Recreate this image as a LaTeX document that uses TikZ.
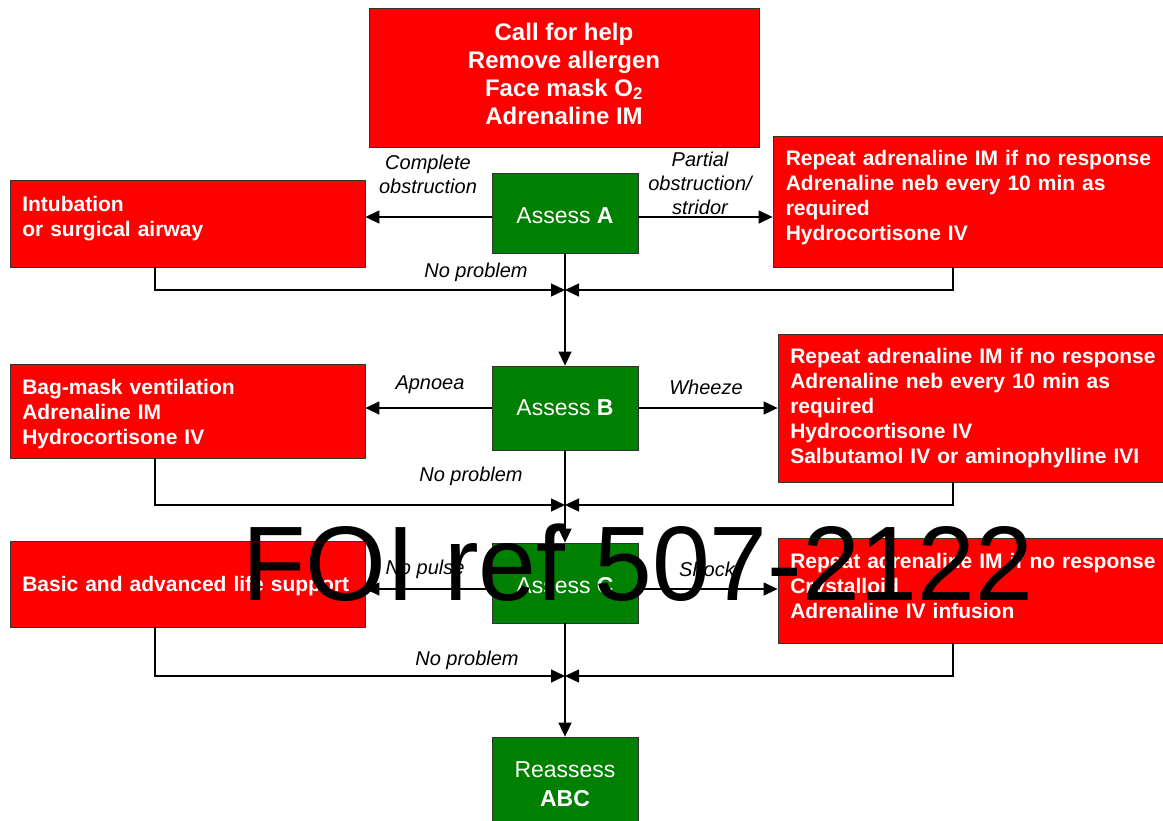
\documentclass[tikz,border=0pt]{standalone}
\usepackage{fontspec}
\setmainfont{Liberation Sans}
\usetikzlibrary{arrows.meta,calc}
\definecolor{alarmred}{RGB}{255,0,0}
\definecolor{okgreen}{RGB}{0,128,0}

\begin{document}
\begin{tikzpicture}[x=1pt,y=-1pt,
  redbox/.style={draw=black!80, line width=0.8pt, fill=alarmred, inner sep=0pt},
  greenbox/.style={draw=black!80, line width=0.8pt, fill=okgreen, inner sep=0pt,
    minimum width=146pt},
  redtxt/.style={text=white, font=\fontsize{21}{25}\selectfont\bfseries,
    inner sep=0pt, align=left, anchor=west, text width=#1},
  toptxt/.style={text=white, font=\fontsize{24}{28}\selectfont\bfseries,
    inner sep=0pt, align=center},
  greentxt/.style={text=white, font=\fontsize{23}{29}\selectfont,
    inner sep=0pt, align=center},
  lbl/.style={font=\fontsize{20}{24}\selectfont\itshape, align=center, inner sep=0pt},
  flow/.style={line width=1.4pt, -{Triangle[length=14pt,width=13pt]}}
]
\useasboundingbox (0,0) rectangle (1163,820);

% first actions
\node[redbox, minimum width=390pt, minimum height=139pt] (top) at (564,77.5) {};
\node[toptxt] (topt) at ([yshift=4pt]top.center)
  {Call for help\\Remove allergen\\Face mask O\textsubscript{2}\\Adrenaline IM};

% airway
\node[greenbox, minimum height=80pt] (assA) at (565,213) {};
\node[greentxt] (assAt) at ([yshift=-3pt]assA.center) {Assess \textbf{A}};
\node[redbox, minimum width=355pt, minimum height=87pt] (L1) at (187.5,223.5) {};
\node[redtxt=330pt] (L1t) at ([xshift=12.5pt,yshift=5pt]L1.west)
  {Intubation\\or surgical airway};
\node[redbox, minimum width=407pt, minimum height=131pt] (R1) at (976.5,201.5) {};
\node[redtxt=380pt] (R1t) at ([xshift=13pt,yshift=4pt]R1.west)
  {Repeat adrenaline IM if no response\\Adrenaline neb every 10 min as\\required\\Hydrocortisone IV};

% breathing
\node[greenbox, minimum height=84pt] (assB) at (565,408) {};
\node[greentxt] (assBt) at (assB.center) {Assess \textbf{B}};
\node[redbox, minimum width=355pt, minimum height=94pt] (L2) at (187.5,411) {};
\node[redtxt=330pt] (L2t) at ([xshift=12.5pt,yshift=-3pt]L2.west)
  {Bag-mask ventilation\\Adrenaline IM\\Hydrocortisone IV};
\node[redbox, minimum width=402pt, minimum height=148pt] (R2) at (979,408) {};
\node[redtxt=377pt] (R2t) at ([xshift=12.5pt]R2.west)
  {Repeat adrenaline IM if no response\\Adrenaline neb every 10 min as\\required\\Hydrocortisone IV\\Salbutamol IV or aminophylline IVI};

% circulation
\node[greenbox, minimum height=80pt] (assC) at (565,583) {};
\node[greentxt] (assCt) at ([yshift=-3pt]assC.center) {Assess \textbf{C}};
\node[redbox, minimum width=355pt, minimum height=86pt] (L3) at (187.5,584) {};
\node[redtxt=330pt] (L3t) at ([xshift=12.5pt,yshift=-2pt]L3.west)
  {Basic and advanced life support};
\node[redbox, minimum width=402pt, minimum height=105pt] (R3) at (979,590.5) {};
\node[redtxt=377pt] (R3t) at ([xshift=12.5pt,yshift=5pt]R3.west)
  {Repeat adrenaline IM if no response\\Crystalloid\\Adrenaline IV infusion};

% reassessment
\node[greenbox, minimum height=86pt] (reass) at (565,780) {};
\node[greentxt] (reasst) at ([yshift=-4pt]reass.center) {Reassess\\\textbf{ABC}};

% merge points on the main line
\coordinate (m1) at (565,290);
\coordinate (m2) at (565,505);
\coordinate (m3) at (565,676);

% branches from A
\draw[flow] ([yshift=-4pt]assA.west) -- ([yshift=-4pt]assA.west -| L1.east);
\draw[flow] ([yshift=-4pt]assA.east) -- ([yshift=-4pt]assA.east -| R1.west);
\draw[flow] (assA.south) -- (assB.north);
\draw[flow] ([xshift=-32.5pt]L1.south) |- (m1);
\draw[flow] ([xshift=-23.5pt]R1.south) |- (m1);

% branches from B
\draw[flow] (assB.west) -- (assB.west -| L2.east);
\draw[flow] (assB.east) -- (assB.east -| R2.west);
\draw[flow] (assB.south) -- (assC.north);
\draw[flow] ([xshift=-32.5pt]L2.south) |- (m2);
\draw[flow] ([xshift=-26pt]R2.south) |- (m2);

% branches from C
\draw[flow] ([yshift=-6pt]assC.west) -- ([yshift=-6pt]assC.west -| L3.east);
\draw[flow] ([yshift=-6pt]assC.east) -- ([yshift=-6pt]assC.east -| R3.west);
\draw[flow] (assC.south) -- (reass.north);
\draw[flow] ([xshift=-32.5pt]L3.south) |- (m3);
\draw[flow] ([xshift=-26pt]R3.south) |- (m3);

% connector labels
\node[lbl] (lcomp) at (428,174) {Complete\\obstruction};
\node[lbl] (lpart) at (700,183) {Partial\\obstruction/\\stridor};
\node[lbl] (lnp1) at (476,272) {No problem};
\node[lbl] (lapn) at (430,385) {Apnoea};
\node[lbl] (lwhz) at (706,387) {Wheeze};
\node[lbl] (lnp2) at (471,476) {No problem};
\node[lbl] (lnop) at (425,569) {No pulse};
\node[lbl] (lshk) at (707,569) {Shock};
\node[lbl] (lnp3) at (467,660) {No problem};

% reference stamp
\node[anchor=base west, inner sep=0pt, font=\fontsize{106}{106}\selectfont] (foi)
  at (242,600) {\scalebox{0.98}[1]{FOI ref 507-2122}};
\end{tikzpicture}
\end{document}
